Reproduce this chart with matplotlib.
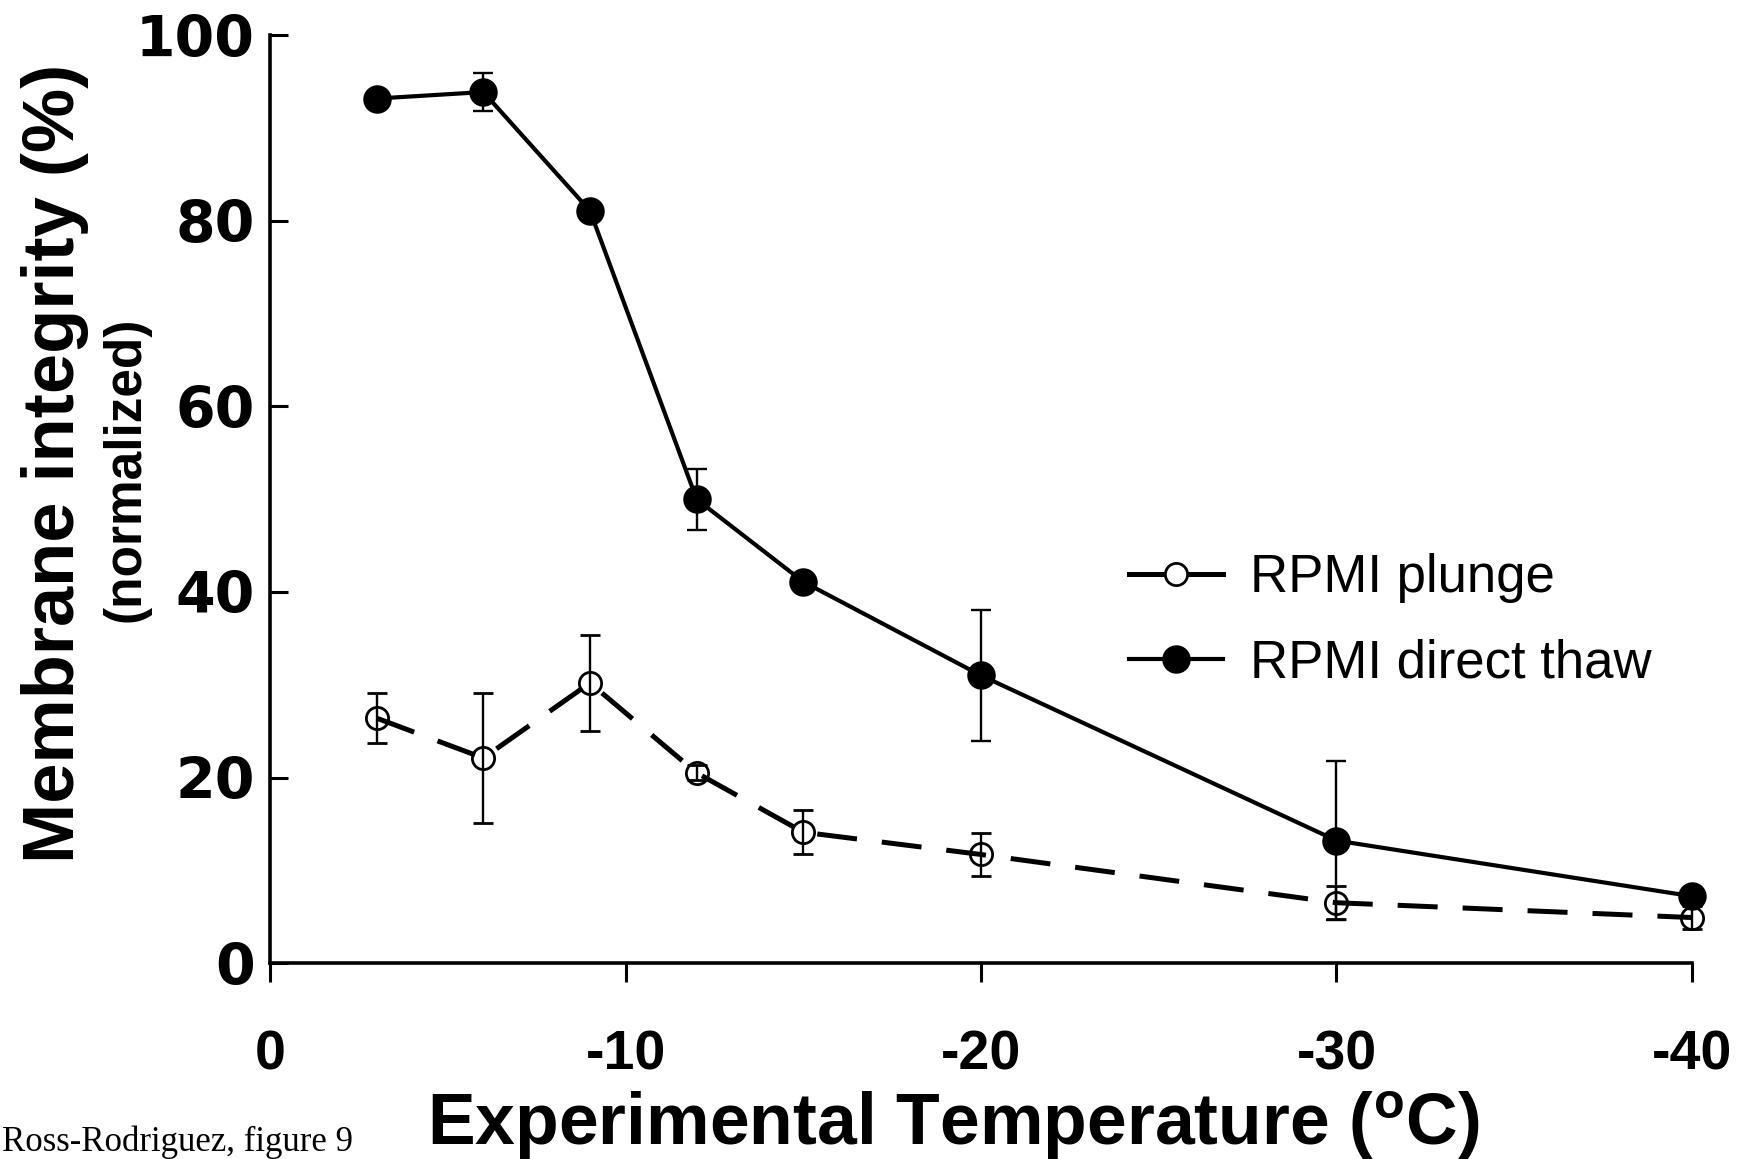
import matplotlib
matplotlib.use("Agg")
import matplotlib.pyplot as plt
from matplotlib.lines import Line2D
from matplotlib import font_manager

# data
temps = [-3, -6, -9, -12, -15, -20, -30, -40]
plunge = [26.4, 22.1, 30.2, 20.5, 14.1, 11.7, 6.5, 4.9]
plunge_err = [2.7, 7.0, 5.2, 0.8, 2.4, 2.3, 1.8, 1.2]
thaw = [93.2, 93.9, 81.1, 50.0, 41.1, 31.0, 13.2, 7.2]
thaw_err = [0, 2.0, 0, 3.3, 0, 7.1, 8.6, 0]
xticks = [0, -10, -20, -30, -40]
xtick_labels = ['0', '-10', '-20', '-30', '-40']
yticks = [0, 20, 40, 60, 80, 100]
labels = ['RPMI plunge', 'RPMI direct thaw']

installed = {f.name for f in font_manager.fontManager.ttflist}
narrow = 'Liberation Sans Narrow' if 'Liberation Sans Narrow' in installed else 'Liberation Sans'

plt.rcParams['axes.unicode_minus'] = False

fig = plt.figure(figsize=(17.4, 11.59), dpi=100)
ax = fig.add_axes([0.1552, 0.1691, 0.8172, 0.8003])

ax.errorbar(temps, plunge, yerr=plunge_err, color='black', linewidth=3.6,
            dashes=(8, 5), marker='o', markersize=16, markerfacecolor='none',
            markeredgewidth=2, ecolor='black', elinewidth=1.7, capsize=7,
            capthick=1.7, clip_on=False, zorder=3)
ax.errorbar(temps, thaw, yerr=thaw_err, color='black', linewidth=3.0,
            marker='o', markersize=19.5, markerfacecolor='black',
            ecolor='black', elinewidth=1.7, capsize=7, capthick=1.7,
            clip_on=False, zorder=3)

ax.set_xlim(0, -40)
ax.set_ylim(0, 100)
ax.set_xticks(xticks)
ax.set_xticklabels(xtick_labels)
ax.set_yticks(yticks)

ax.spines['top'].set_visible(False)
ax.spines['right'].set_visible(False)
ax.spines['left'].set_linewidth(2.6)
ax.spines['bottom'].set_linewidth(2.6)
ax.tick_params(axis='y', direction='in', length=13, width=2.2, pad=11)
ax.tick_params(axis='x', direction='out', length=14, width=2.2, pad=34)
for t in ax.get_yticklabels():
    t.set_fontfamily('DejaVu Sans')
    t.set_fontweight('bold')
    t.set_fontsize(41)
for t in ax.get_xticklabels():
    t.set_fontfamily('Liberation Sans')
    t.set_fontweight('bold')
    t.set_fontsize(40)

handles = [
    Line2D([], [], color='black', linewidth=3.6, marker='o', markersize=16,
           markerfacecolor='white', markeredgewidth=2),
    Line2D([], [], color='black', linewidth=3.0, marker='o', markersize=19.5,
           markerfacecolor='black'),
]
leg = ax.legend(handles, labels, loc='center left', bbox_to_anchor=(0.604, 0.369),
                frameon=False, borderpad=0, borderaxespad=0, handlelength=1.78,
                handletextpad=0.52, labelspacing=0.66,
                prop={'family': 'Liberation Sans', 'size': 38})

fig.text(0.548, 0.029, r'Experimental Temperature ($\mathregular{^o}$C)',
         ha='center', va='center', fontsize=51.5, fontweight='bold',
         family='Liberation Sans')
fig.text(0.0316, 0.600, 'Membrane integrity (%)', rotation=90, ha='center',
         va='center', fontsize=52, fontweight='bold', family=[narrow])
fig.text(0.0725, 0.595, '(normalized)', rotation=90, ha='center',
         va='center', fontsize=37, fontweight='bold', family=[narrow])
fig.text(0.001, 0.007, 'Ross-Rodriguez, figure 9', ha='left', va='baseline',
         fontsize=25, family='Liberation Serif')

plt.savefig('out.png', dpi=100)
